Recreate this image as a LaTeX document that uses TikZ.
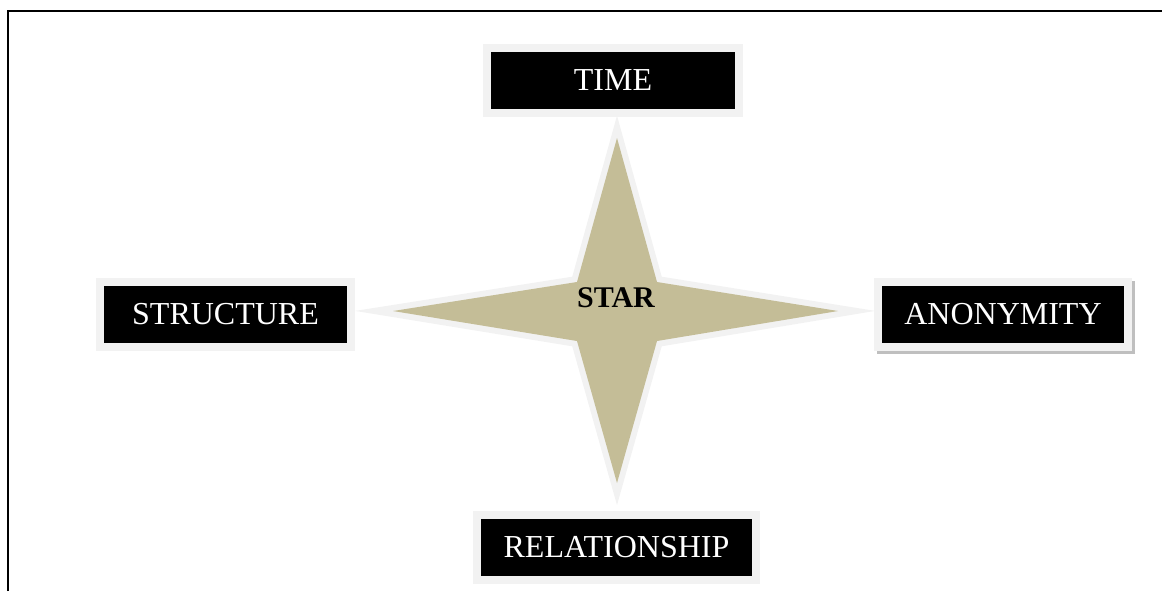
\documentclass[tikz,border=0pt]{standalone}
\usepackage{fontspec}
\setmainfont{Liberation Serif}
\usetikzlibrary{shadows}
\definecolor{band}{HTML}{F2F2F2}
\definecolor{startan}{HTML}{C4BD97}
\definecolor{shade}{HTML}{BFBFBF}
\begin{document}
\begin{tikzpicture}[x=0.5pt, y=-0.5pt]

% Define styles
\tikzstyle{label} = [rectangle, fill=black, draw=band, line width=4pt, text=white, minimum height=32.5pt, inner sep=0pt, font=\fontsize{16}{19}\selectfont]
\tikzstyle{starshape} = [fill=startan, preaction={draw=band, line width=6pt, miter limit=10}]
\tikzstyle{frame} = [line width=1pt]

\useasboundingbox (0,0) rectangle (1162,591);

% Frame
\draw [frame] (7.5,591) -- (7.5,11) -- (1162,11);

% Star
\path [starshape] (617,138) -- (657,282) -- (838,311) -- (657,341) -- (617,483)
  -- (577,341) -- (393,311) -- (577,282) -- cycle;
\node (star) at (616,298) {\bfseries\fontsize{15}{18}\selectfont STAR};

% Labels at the tips
\node [label, minimum width=126pt] (time) at (613,80) {TIME};
\node [label, minimum width=125.5pt] (structure) at (225.5,314.5) {STRUCTURE};
\node [label, minimum width=125pt, drop shadow={shadow xshift=1.5pt, shadow yshift=-1.5pt, fill=shade, draw=shade, line width=4pt, opacity=1}] (anonymity) at (1003,314.5) {ANONYMITY};
\node [label, minimum width=139.5pt] (relationship) at (616.5,547.5) {RELATIONSHIP};

\end{tikzpicture}
\end{document}
